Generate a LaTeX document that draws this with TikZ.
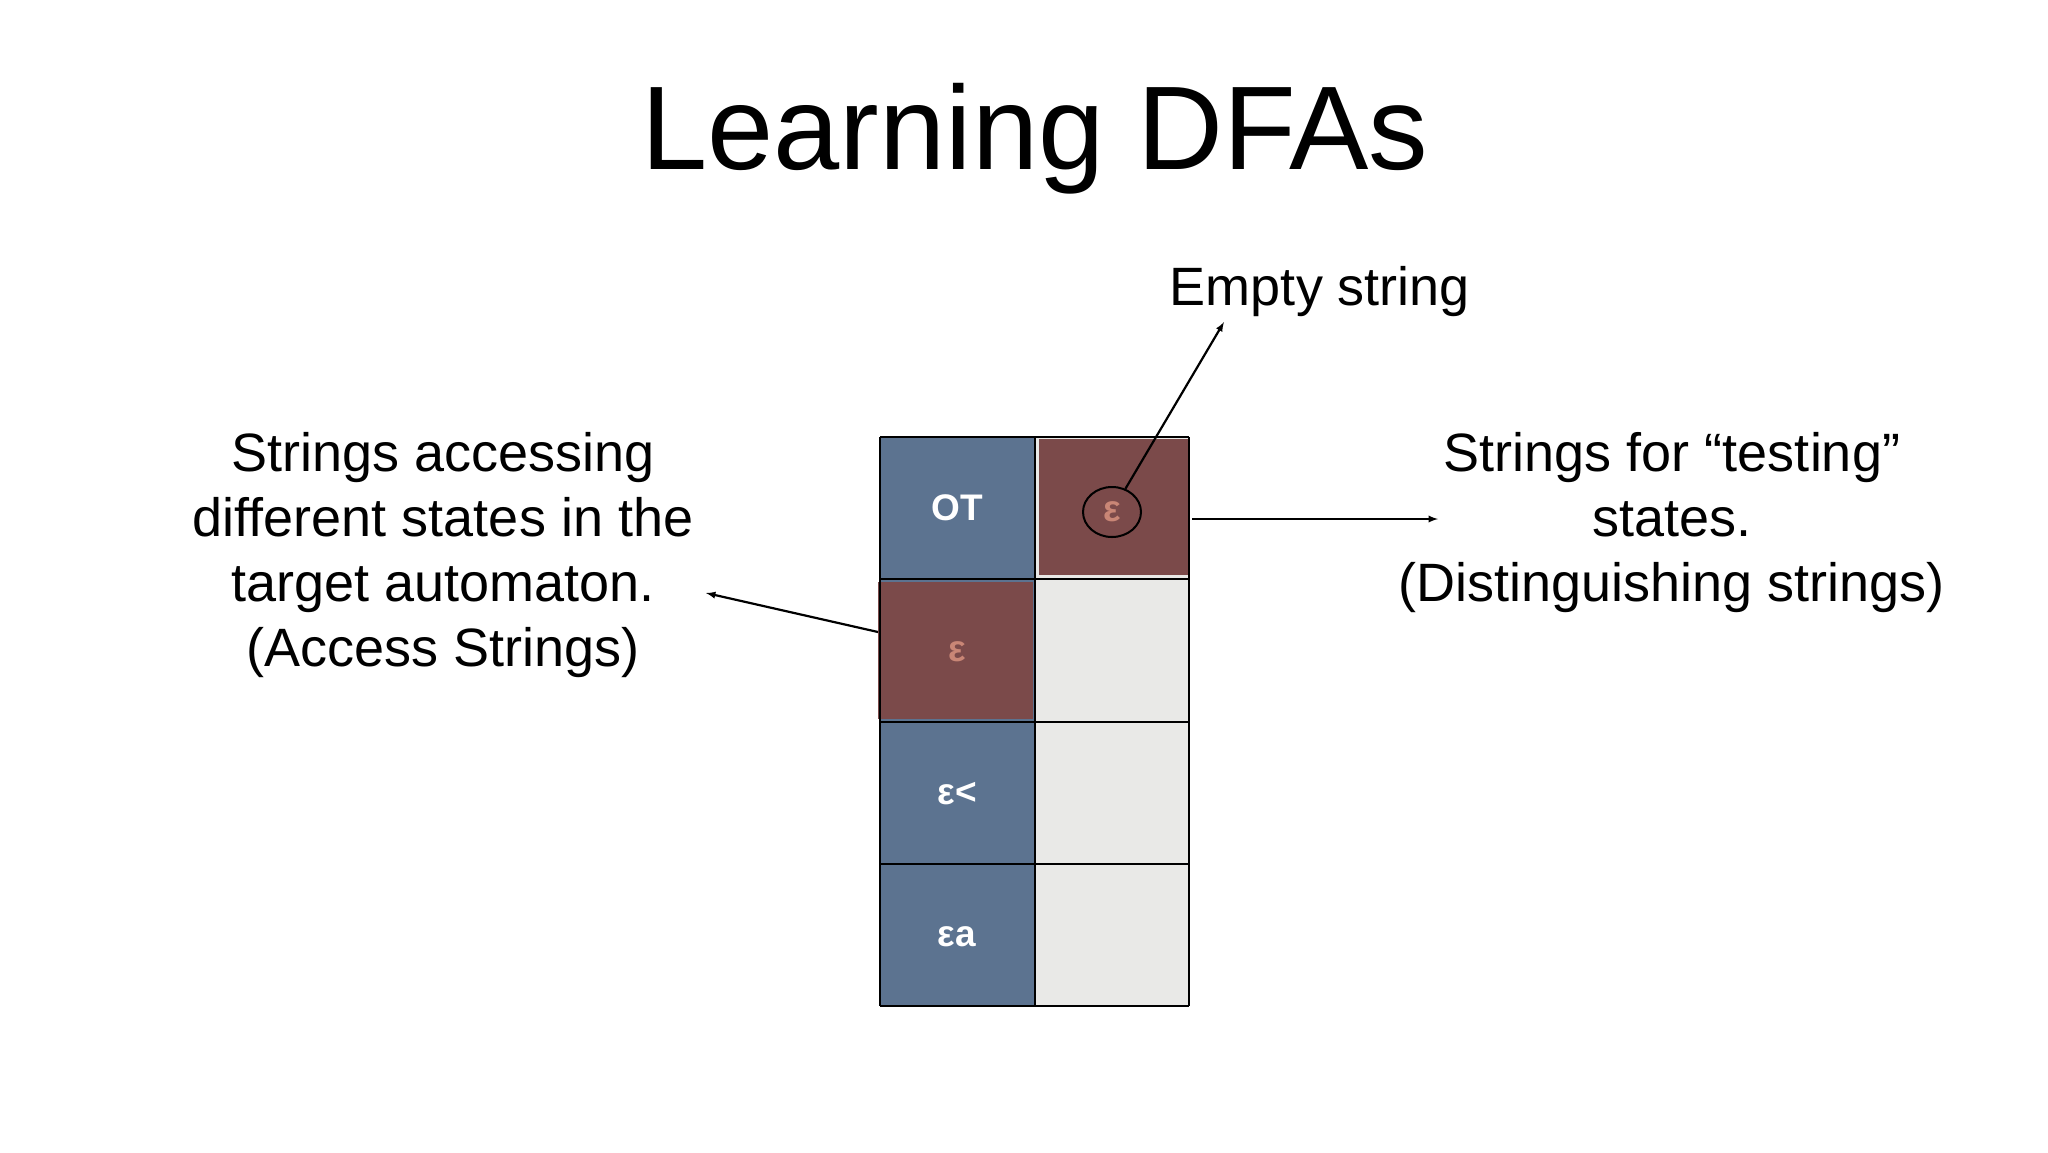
\documentclass[tikz,border=0pt]{standalone}
\usepackage{fontspec}
\setmainfont{Liberation Sans}
\usetikzlibrary{shapes.geometric}
\begin{document}
\begin{tikzpicture}[x=1pt,y=-1pt,
  lbl/.style={align=center,font=\fontsize{54}{65}\selectfont},
  cellt/.style={text=white,font=\bfseries\fontsize{37}{40}\selectfont},
  arr/.style={-latex,line width=2.2pt}]
\definecolor{bluec}{HTML}{5C7390}
\definecolor{redc}{HTML}{7B4A4A}
\definecolor{grayc}{HTML}{E9E9E7}
\definecolor{pinkc}{HTML}{C98676}
\useasboundingbox (0,0) rectangle (2048,1152);
\node[font=\fontsize{119}{130}\selectfont] (title) at (1035,139) {Learning DFAs};
% table
\fill[bluec] (880,437) rectangle (1035,1006);
\fill[grayc] (1035,437) rectangle (1189,1006);
\fill[redc] (1039,439) rectangle (1188,575);
\fill[redc] (878,582) rectangle (1033,719);
\foreach \y in {437,579,722,864,1006} \draw[line width=1.2pt] (880,\y) -- (1189,\y);
\foreach \x in {880,1035,1189} \draw[line width=1.2pt] (\x,437) -- (\x,1006);
\node[cellt] (c1) at (957,508) {OT};
\node[cellt,text=pinkc] (c2) at (957,652) {ε};
\node[cellt] (c3) at (957,794) {ε<};
\node[cellt] (c4) at (957,937) {εa};
\node[cellt,text=pinkc] (e) at (1112,512) {ε};
\node[draw,ellipse,line width=2pt,minimum width=58pt,minimum height=50pt] (ell) at (1112,512) {};
\node[lbl] (emp) at (1320,292) {Empty string};
\node[lbl] (left) at (443,555) {Strings accessing\\different states in the\\target automaton.\\(Access Strings)};
\node[lbl] (right) at (1672,523) {Strings for “testing”\\states.\\(Distinguishing strings)};
\coordinate (la) at (878,632); \coordinate (lb) at (706,593);
\draw[arr] (la) -- (lb);
\coordinate (ra) at (1192,519); \coordinate (rb) at (1438,519);
\draw[arr] (ra) -- (rb);
\coordinate (ea) at (1224,322);
\draw[arr] (ell.60) -- (ea);
\end{tikzpicture}
\end{document}
